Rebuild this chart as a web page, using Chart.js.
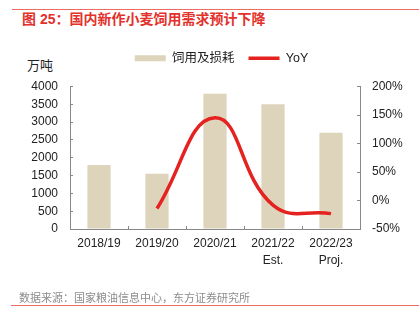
<!DOCTYPE html>
<html>
<head>
<meta charset="utf-8">
<script src="https://cdn.jsdelivr.net/npm/chart.js@4"></script>
<style>
  body { margin: 0; width: 419px; height: 325px; background: #fff; position: relative; overflow: hidden;
         font-family: "Liberation Sans", Arial, "Noto Sans CJK SC", sans-serif; }
  .linea { position: absolute; height: 1px; background: #ee6b64; }
  .texto { position: absolute; white-space: nowrap; }
  #grafico { position: absolute; left: 0; top: 0; }
</style>
</head>
<body>
<div class="linea" style="left:12px; top:9px; width:407px;"></div>
<div class="texto" style="left:22px; top:9px; line-height:20px; font-size:14px; font-weight:bold; color:#e3312c;">图 25：国内新作小麦饲用需求预计下降</div>
<div class="texto" style="left:27px; top:56px; line-height:20px; font-size:13px; color:#222;">万吨</div>
<canvas id="grafico" width="419" height="325"></canvas>
<div class="texto" style="left:19px; top:288px; line-height:20px; font-size:11px; color:#8c8c8c;">数据来源：国家粮油信息中心，东方证券研究所</div>
<div class="linea" style="left:11px; top:305px; width:408px;"></div>

<script>
// Datos
const categorias = [['2018/19'], ['2019/20'], ['2020/21'], ['2021/22', 'Est.'], ['2022/23', 'Proj.']];
const consumo = [1800, 1550, 3800, 3500, 2700];   // 万吨
const yoy = [null, -14, 145, -8, -23];             // %
const nombreBarras = '饲用及损耗';
const nombreLinea = 'YoY';

Chart.defaults.font.family = '"Liberation Sans", Arial, "Noto Sans CJK SC", sans-serif';
Chart.defaults.color = '#222';

// deja espacio entre la leyenda y el área del gráfico
const espacioLeyenda = {
  id: 'espacioLeyenda',
  beforeInit(chart) {
    if (!chart.legend) return;
    const fitOriginal = chart.legend.fit;
    chart.legend.fit = function () {
      fitOriginal.call(this);
      this.height += 12;
    };
  }
};

const ctx = document.getElementById('grafico').getContext('2d');
new Chart(ctx, {
  type: 'bar',
  data: {
    labels: categorias,
    datasets: [
      {
        label: nombreBarras,
        data: consumo,
        backgroundColor: '#ded4bc',
        barPercentage: 0.4,
        categoryPercentage: 1,
        yAxisID: 'y',
        order: 2
      },
      {
        type: 'line',
        label: nombreLinea,
        data: yoy,
        borderColor: '#e5221f',
        backgroundColor: '#e5221f',
        borderWidth: 3.5,
        pointRadius: 0,
        tension: 0.45,
        yAxisID: 'y1',
        order: 1
      }
    ]
  },
  options: {
    responsive: false,
    animation: false,
    devicePixelRatio: 1,
    layout: { padding: { top: 38, left: 24, right: 0, bottom: 0 } },
    plugins: {
      tooltip: { enabled: false },
      legend: {
        position: 'top',
        labels: {
          usePointStyle: true,
          pointStyleWidth: 31,
          boxHeight: 6,
          padding: 14,
          color: '#222',
          font: { size: 12.5 },
          sort: (a, b) => a.datasetIndex - b.datasetIndex,
          generateLabels(chart) {
            const items = Chart.defaults.plugins.legend.labels.generateLabels(chart);
            items.forEach(it => { it.pointStyle = it.datasetIndex === 0 ? 'rect' : 'line'; });
            return items;
          }
        }
      }
    },
    scales: {
      x: {
        grid: { drawOnChartArea: false, tickLength: -3, color: '#888', offset: true },
        border: { color: '#888' },
        ticks: { padding: 9, font: { size: 12, lineHeight: 1.4 }, maxRotation: 0 },
        afterFit(scale) { scale.height = 96; }
      },
      y: {
        position: 'left',
        min: 0,
        max: 4000,
        grid: { drawOnChartArea: false, tickLength: -3, color: '#888' },
        border: { color: '#888' },
        ticks: { stepSize: 500, padding: 15, font: { size: 12 }, callback: v => String(v) },
        afterFit(scale) { scale.width = 46; }
      },
      y1: {
        position: 'right',
        min: -50,
        max: 200,
        grid: { drawOnChartArea: false, tickLength: -3, color: '#888' },
        border: { color: '#888' },
        ticks: { stepSize: 50, padding: 15, font: { size: 12 }, callback: v => v + '%' },
        afterFit(scale) { scale.width = 59; }
      }
    }
  },
  plugins: [espacioLeyenda]
});
</script>
</body>
</html>
